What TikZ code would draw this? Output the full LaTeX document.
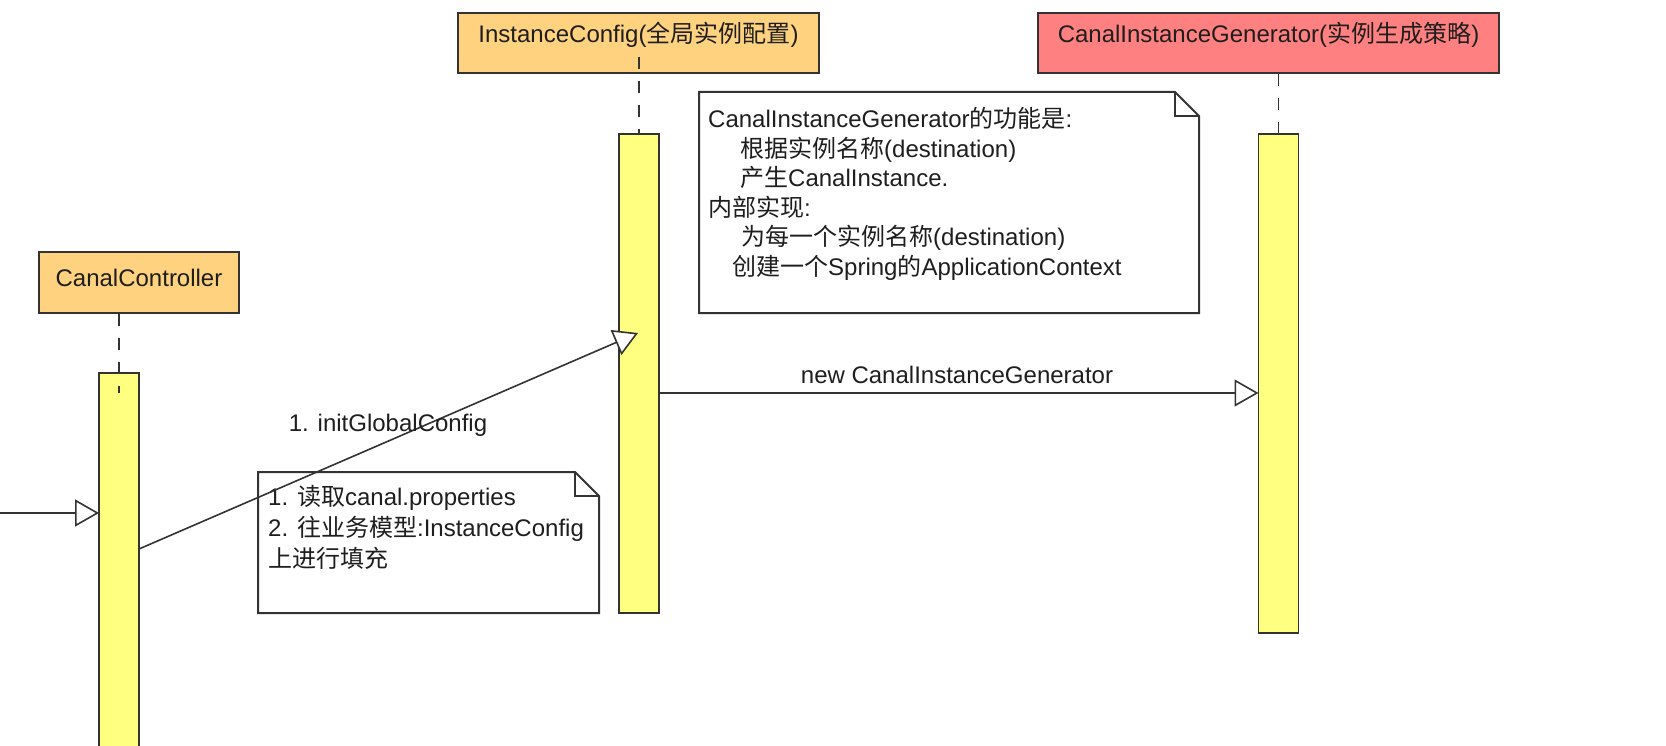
\documentclass[tikz,border=0pt]{standalone}
\usepackage{fontspec}
\setmainfont{Liberation Sans}
\newfontfamily\cjk{Noto Sans CJK SC}
\usetikzlibrary{arrows.meta}
\definecolor{lineC}{HTML}{333333}
\definecolor{orangeF}{HTML}{FFD280}
\definecolor{redF}{HTML}{FF8080}
\definecolor{barF}{HTML}{FFFF80}
\definecolor{txtC}{HTML}{1E1E1E}
\begin{document}
\begin{tikzpicture}[x=1pt,y=-1pt,
  font=\fontsize{24}{29.6}\selectfont, text=txtC,
  head/.style={draw=lineC, line width=2pt, minimum height=60pt, inner sep=0pt, text height=20pt, text depth=20pt},
  bar/.style={draw=lineC, line width=1.8pt, fill=barF, minimum width=40pt, inner sep=0pt, anchor=north},
  life/.style={draw=lineC, line width=1.6pt, dash pattern=on 12pt off 12pt},
  msg/.style={draw=lineC, line width=1.6pt, -{Triangle[length=24pt,width=27pt,fill=white]}},
  noteout/.style={draw=lineC, line width=2pt, fill=white, line join=miter},
  notetext/.style={anchor=north west, inner sep=0pt, align=left},
  lbl/.style={inner sep=0pt}
]
\useasboundingbox (0,0) rectangle (1666,746);

% heads
\node[head, fill=orangeF, minimum width=200pt, text depth=12pt] (ctrl) at (139,282.5) {CanalController};
\node[head, fill=orangeF, minimum width=361pt] (cfg) at (638.5,43) {InstanceConfig({\cjk 全局实例配置})};
\node[head, fill=redF, minimum width=461pt] (gen) at (1268.5,43) {CanalInstanceGenerator({\cjk 实例生成策略})};

% activation bars
\node[bar, minimum height=380pt] (ctrlbar) at (119,372) {};
\node[bar, minimum height=479pt] (cfgbar) at (639,133) {};
\node[bar, minimum height=499pt] (genbar) at (1278.5,133) {};

% lifelines
\coordinate (ctrlLifeEnd) at (119,393);
\coordinate (cfgLifeTop) at (639,57);
\draw[life] (ctrl.south -| ctrlbar.north) -- (ctrlLifeEnd);
\draw[life] (cfgLifeTop) -- (cfgbar.north);
\draw[life] (gen.south -| genbar.north) -- (genbar.north);

% note 1
\draw[noteout] (699,92) -- (1175,92) -- (1199,116) -- (1199,313) -- (699,313) -- cycle;
\draw[draw=lineC, line width=2pt] (1175,92) -- (1175,116) -- (1199,116);
\node[notetext] (note1) at (708,107) {CanalInstanceGenerator{\cjk 的功能是}:\\
\hspace*{32pt}{\cjk 根据实例名称}(destination)\\
\hspace*{32pt}{\cjk 产生}CanalInstance.\\
{\cjk 内部实现}:\\
\hspace*{33pt}{\cjk 为每一个实例名称}(destination)\\
\hspace*{24pt}{\cjk 创建一个}Spring{\cjk 的}ApplicationContext};

% note 2
\draw[noteout] (258,472) -- (575,472) -- (599,496) -- (599,613) -- (258,613) -- cycle;
\draw[draw=lineC, line width=2pt] (575,472) -- (575,496) -- (599,496);
\node[notetext, font=\fontsize{24}{31}\selectfont] (note2) at (268,485) {1. {\cjk 读取}canal.properties\\
2. {\cjk 往业务模型}:InstanceConfig\\
{\cjk 上进行填充}};

% messages
\coordinate (inStart) at (0,513);
\coordinate (ctrlIn) at (99,513);
\coordinate (ctrlOut) at (139,549);
\coordinate (cfgIn) at (638,333);
\coordinate (cfgOut) at (659,393);
\coordinate (genIn) at (1258.5,393);
\draw[msg] (inStart) -- (ctrlIn);
\draw[msg] (ctrlOut) -- (cfgIn);
\draw[msg] (cfgOut) -- (genIn);

% labels
\node[lbl] (l1) at (388,425) {1. initGlobalConfig};
\node[lbl] (l2) at (957,375) {new CanalInstanceGenerator};
\end{tikzpicture}
\end{document}
